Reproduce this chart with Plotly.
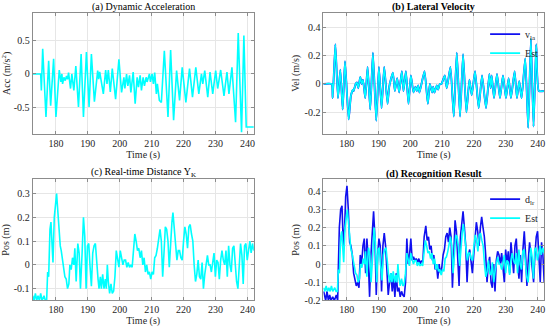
import plotly.graph_objects as go

# ---------------- data ----------------
# (a) Dynamic acceleration
t_acc = [172.7, 175.22, 175.43, 175.85, 176.88, 177.72, 178.34, 179.27, 180.0, 181.04,
         181.56, 181.87, 182.08, 182.49, 182.91, 183.32, 183.63, 183.95, 184.57, 184.98,
         185.61, 186.23, 187.06, 187.89, 188.62, 189.55, 190.38, 191.11, 192.05, 192.56,
         193.08, 193.40, 193.71, 194.85, 195.58, 195.99, 196.41, 197.03, 197.65, 198.69,
         199.73, 200.56, 201.29, 201.60, 202.12, 202.53, 203.05, 203.47, 204.20, 204.82,
         205.44, 205.86, 206.38, 206.79, 207.31, 207.73, 208.25, 208.56, 209.28, 209.60,
         210.11, 210.53, 210.94, 211.46, 211.78, 212.40, 213.02, 213.96, 215.10, 215.93,
         216.86, 217.80, 218.73, 219.56, 220.71, 221.85, 222.78, 223.82, 224.76, 225.59,
         226.00, 226.62, 227.56, 228.28, 229.12, 230.05, 230.67, 231.61, 232.65, 233.58,
         234.20, 235.14, 236.28, 237.11, 238.15, 238.88, 239.61, 242.0]
acc = [0.0, 0.0, -0.25, 0.38, -0.65, 0.2, -0.48, 0.23, -0.65, 0.06,
       -0.12, 0.0, -0.15, -0.05, -0.1, -0.03, -0.08, 0.02, -0.22, 0.0,
       -0.25, 0.12, -0.5, 0.3, -0.65, 0.33, -0.5, 0.3, -0.42, -0.15,
       0.05, -0.08, 0.03, -0.3, 0.06, -0.15, 0.06, -0.27, 0.08, -0.38,
       0.22, -0.28, -0.05, -0.22, 0.0, -0.18, -0.02, -0.28, 0.03, -0.45,
       -0.05, -0.2, -0.02, -0.25, -0.05, -0.18, -0.05, -0.12, 0.0, -0.12,
       0.0, -0.15, 0.02, -0.3, -0.15, -0.4, -0.43, 0.35, -0.65, 0.36,
       -0.7, 0.05, -0.4, 0.1, -0.43, 0.08, -0.35, 0.1, -0.3, 0.0,
       -0.15, 0.05, -0.35, 0.03, -0.3, 0.05, -0.22, 0.06, -0.33, 0.03,
       -0.3, 0.1, -0.73, 0.62, -0.88, 0.58, -0.8, -0.8]

# (b) Lateral velocity
t_vel = [172.7, 175.30, 175.61, 176.45, 177.28, 178.01, 178.75, 179.48, 180.63, 181.36,
         181.99, 182.19, 182.82, 183.23, 183.65, 184.28, 184.70, 185.12, 185.85, 186.58,
         187.41, 188.25, 189.30, 190.13, 190.97, 191.80, 192.85, 193.37, 194.52, 195.14,
         195.87, 196.50, 197.34, 197.86, 198.60, 199.43, 200.17, 201.00, 201.63, 202.05,
         202.47, 202.89, 204.45, 205.50, 206.13, 206.86, 207.17, 207.59, 208.32, 208.74,
         209.26, 209.78, 210.82, 211.45, 212.60, 213.65, 214.59, 215.63, 216.57, 217.62,
         218.56, 219.29, 220.33, 221.48, 222.53, 223.78, 224.83, 225.24, 225.56, 226.29,
         227.23, 228.17, 229.11, 230.05, 230.88, 231.61, 232.76, 233.49, 234.22, 234.95,
         236.10, 237.04, 237.88, 238.71, 239.55, 240.38, 242.0]
vel = [0.0, 0.0, -0.1, 0.28, -0.1, 0.1, -0.18, 0.16, -0.25, -0.08,
       -0.04, -0.05, 0.0, 0.01, -0.03, 0.05, 0.0, 0.03, -0.1, 0.12,
       -0.18, 0.22, -0.26, 0.12, -0.17, 0.12, -0.14, -0.02, 0.08, -0.05,
       0.04, -0.06, 0.09, -0.05, 0.09, -0.14, 0.06, -0.06, -0.02, -0.05,
       -0.01, -0.06, 0.09, -0.14, 0.0, -0.06, -0.02, -0.06, -0.01, -0.04,
       0.0, 0.0, 0.06, -0.03, 0.12, -0.23, 0.22, -0.23, 0.21, -0.2,
       0.03, -0.08, 0.09, -0.17, 0.06, -0.17, 0.07, -0.03, 0.06, -0.1,
       0.07, -0.1, 0.06, -0.1, 0.04, -0.1, 0.09, -0.1, 0.02, -0.1,
       0.18, -0.31, 0.32, -0.3, 0.28, -0.05, -0.05]

# (c) Real-time distance Y_K (also the estimate in (d))
t_pos = [172.73, 173.15, 173.56, 173.98, 174.39, 174.81, 175.22, 175.64, 176.26, 176.68,
         177.09, 177.40, 177.72, 178.13, 178.44, 178.75, 179.07, 179.48, 179.90, 180.21,
         180.62, 181.04, 181.35, 181.66, 182.08, 182.49, 182.80, 183.22, 183.63, 184.05,
         184.36, 184.78, 185.19, 185.61, 185.92, 186.33, 186.85, 187.27, 187.68, 188.20,
         188.62, 189.03, 189.45, 189.87, 190.28, 190.70, 191.11, 191.53, 191.94, 192.36,
         192.77, 193.19, 193.50, 193.91, 194.23, 194.64, 195.06, 195.47, 195.78, 196.10,
         196.41, 196.82, 197.24, 197.65, 198.07, 198.48, 198.90, 199.31, 199.73, 200.15,
         200.56, 200.98, 201.39, 201.81, 202.22, 202.64, 203.05, 203.47, 203.88, 204.30,
         204.71, 205.13, 205.55, 205.96, 206.38, 206.79, 207.21, 207.62, 208.04, 208.45,
         208.87, 209.28, 209.70, 210.11, 210.53, 210.94, 211.36, 211.78, 212.19, 212.61,
         213.02, 213.44, 213.85, 214.27, 214.68, 215.10, 215.51, 215.93, 216.34, 216.66,
         217.07, 217.49, 217.90, 218.32, 218.73, 219.15, 219.56, 219.98, 220.39, 220.81,
         221.23, 221.64, 222.06, 222.47, 222.89, 223.30, 223.72, 224.13, 224.55, 224.96,
         225.38, 225.79, 226.21, 226.62, 227.04, 227.46, 227.87, 228.29, 228.70, 229.12,
         229.53, 229.95, 230.36, 230.78, 231.19, 231.61, 232.02, 232.44, 232.86, 233.27,
         233.69, 234.10, 234.52, 234.93, 235.35, 235.76, 236.18, 236.59, 237.01, 237.43,
         237.84, 238.26, 238.67, 239.09, 239.50, 239.92, 240.33, 240.75, 241.16, 241.58,
         241.99]
yk = [-0.13, -0.15, -0.12, -0.15, -0.13, -0.15, -0.12, -0.15, -0.13, -0.15,
      -0.15, -0.03, -0.05, 0.15, 0.18, 0.08, 0.01, 0.2, 0.25, 0.3,
      0.22, 0.12, 0.08, 0.06, 0.02, -0.02, -0.05, -0.06, -0.1, -0.08,
      0.0, -0.02, 0.03, 0.0, 0.07, -0.07, 0.09, 0.05, -0.1, 0.05,
      0.2, 0.12, -0.1, 0.08, 0.09, -0.01, -0.09, 0.05, 0.08, 0.09,
      0.0, -0.06, -0.1, -0.05, -0.1, -0.04, -0.1, -0.06, -0.1, 0.0,
      -0.07, -0.12, -0.08, -0.12, -0.11, -0.05, 0.06, 0.03, -0.01, 0.06,
      0.03, 0.0, 0.02, 0.02, -0.01, 0.01, -0.01, 0.0, -0.01, 0.06,
      0.13, 0.1, 0.06, 0.07, 0.03, 0.06, 0.0, 0.03, -0.03, 0.0,
      -0.04, -0.03, -0.06, -0.03, -0.04, 0.03, 0.04, 0.07, 0.12, 0.15,
      0.1, -0.05, 0.05, 0.16, 0.15, 0.1, -0.01, 0.12, 0.18, 0.22,
      0.16, 0.09, 0.02, 0.06, 0.06, 0.03, 0.02, 0.1, 0.16, 0.13,
      0.07, 0.16, 0.17, 0.13, 0.1, 0.0, -0.07, -0.04, 0.02, -0.05,
      -0.06, 0.01, -0.1, -0.04, 0.0, 0.04, 0.0, 0.0, -0.03, 0.02,
      0.05, -0.05, 0.02, 0.01, -0.06, 0.02, 0.06, 0.02, 0.0, 0.06,
      -0.05, 0.08, 0.0, -0.03, 0.07, 0.08, 0.0, -0.07, -0.1, 0.0,
      0.09, 0.04, -0.08, 0.08, 0.09, 0.02, 0.06, 0.1, 0.05, 0.09,
      0.06]

# (d) Recognition result d_lr
t_dlr = [172.79, 173.0, 173.42, 173.83, 174.25, 174.67, 175.09, 175.61, 176.13, 176.76,
         177.18, 177.39, 177.70, 178.12, 178.54, 178.96, 179.37, 179.69, 180.10, 180.52,
         180.94, 181.36, 181.78, 182.19, 182.61, 183.03, 183.45, 183.87, 184.28, 184.70,
         185.12, 185.54, 185.96, 186.37, 186.79, 187.21, 187.63, 188.05, 188.46, 188.88,
         189.30, 189.72, 190.14, 190.55, 190.97, 191.39, 191.81, 192.23, 192.64, 193.06,
         193.48, 193.90, 194.32, 194.73, 195.15, 195.57, 195.99, 196.41, 196.82, 197.24,
         197.66, 198.08, 198.50, 198.91, 199.33, 199.75, 200.17, 200.59, 201.0, 201.42,
         201.84, 202.26, 202.68, 203.09, 203.51, 203.93, 204.35, 204.87, 205.29, 205.71,
         206.12, 206.54, 206.96, 207.38, 207.80, 208.21, 208.63, 209.05, 209.47, 209.89,
         210.30, 210.72, 211.14, 211.56, 211.98, 212.39, 212.81, 213.23, 213.65, 214.06,
         214.48, 214.90, 215.32, 215.74, 216.15, 216.57, 216.99, 217.41, 217.83, 218.24,
         218.66, 219.08, 219.50, 219.92, 220.33, 220.75, 221.17, 221.59, 222.01, 222.42,
         222.84, 223.26, 223.68, 224.10, 224.51, 224.93, 225.35, 225.77, 226.19, 226.60,
         227.02, 227.44, 227.86, 228.28, 228.69, 229.11, 229.53, 229.95, 230.37, 230.78,
         231.20, 231.62, 232.04, 232.46, 232.87, 233.29, 233.71, 234.13, 234.55, 234.96,
         235.38, 235.80, 236.22, 236.64, 237.05, 237.47, 237.89, 238.31, 238.73, 239.14,
         239.56, 239.98, 240.40, 240.82, 241.23, 241.65, 242.07]
dlr = [-0.15, -0.17, -0.2, -0.15, -0.2, -0.17, -0.2, -0.18, -0.2, -0.17,
       -0.2, -0.02, 0.2, 0.3, 0.32, 0.1, 0.2, 0.37, 0.43, 0.3,
       0.12, 0.1, 0.05, -0.05, -0.08, -0.12, -0.1, -0.13, 0.05, 0.0,
       0.1, 0.14, -0.05, 0.14, 0.02, -0.18, 0.05, 0.2, 0.29, 0.15,
       -0.17, 0.05, 0.14, 0.1, -0.15, 0.1, 0.17, 0.1, -0.05, -0.17,
       -0.1, -0.05, -0.15, -0.07, -0.18, -0.05, -0.15, -0.13, -0.18, -0.15,
       -0.17, -0.18, -0.1, 0.14, 0.0, 0.05, 0.14, 0.02, 0.04, 0.02,
       0.03, 0.01, 0.03, 0.0, 0.02, 0.01, 0.15, 0.21, 0.13, 0.15,
       0.08, 0.1, 0.02, 0.05, -0.03, 0.0, -0.08, 0.0, -0.05, -0.02,
       0.05, 0.08, 0.15, 0.17, 0.12, 0.2, 0.15, -0.13, 0.05, 0.24,
       0.18, 0.05, -0.12, 0.15, 0.22, 0.29, 0.2, 0.1, -0.1, 0.05,
       0.08, 0.0, -0.05, 0.05, 0.12, 0.23, 0.18, 0.1, 0.2, 0.26,
       0.2, 0.15, 0.05, -0.1, 0.0, 0.04, -0.1, -0.13, 0.0, -0.15,
       0.02, 0.07, 0.05, 0.0, 0.06, -0.02, -0.1, 0.08, 0.0, 0.07,
       -0.05, 0.12, 0.02, -0.05, 0.1, 0.14, 0.0, -0.08, 0.05, -0.1,
       0.08, 0.18, 0.05, -0.12, 0.02, 0.12, 0.05, -0.05, -0.1, 0.05,
       0.15, 0.18, 0.0, -0.1, 0.12, 0.05, -0.1]

x_ticks = [180, 190, 200, 210, 220, 230, 240]
x_ticklabels = ["180", "190", "200", "210", "220", "230", "240"]
yticks_a = [-0.5, 0, 0.5]
ytext_a = ["-0.5", "0", "0.5"]
yticks_b = [-0.2, 0, 0.2, 0.4]
ytext_b = ["-0.2", "0", "0.2", "0.4"]
yticks_c = [-0.1, 0, 0.1, 0.2, 0.3]
ytext_c = ["-0.1", "0", "0.1", "0.2", "0.3"]
yticks_d = [-0.2, -0.1, 0, 0.1, 0.2, 0.3, 0.4]
ytext_d = ["-0.2", "-0.1", "0", "0.1", "0.2", "0.3", "0.4"]

# ---------------- figure ----------------
FONT = "Liberation Serif, Times New Roman, serif"
W, H = 550, 333
CYAN = "#00FFFF"
BLUE = "#1010F0"

fig = go.Figure()
fig.add_trace(go.Scatter(x=t_acc, y=acc, mode="lines", line=dict(color=CYAN, width=1.6),
                         xaxis="x", yaxis="y", showlegend=False))
fig.add_trace(go.Scatter(x=t_vel, y=vel, mode="lines", name="v<sub>la</sub>",
                         line=dict(color=BLUE, width=1.9, shape="spline", smoothing=0.5),
                         xaxis="x2", yaxis="y2", legend="legend"))
fig.add_trace(go.Scatter(x=t_vel, y=vel, mode="lines", name="Est",
                         line=dict(color=CYAN, width=1.6, shape="spline", smoothing=0.5),
                         xaxis="x2", yaxis="y2", legend="legend"))
fig.add_trace(go.Scatter(x=t_pos, y=yk, mode="lines", line=dict(color=CYAN, width=1.6),
                         xaxis="x3", yaxis="y3", showlegend=False))
fig.add_trace(go.Scatter(x=t_dlr, y=dlr, mode="lines", name="d<sub>lr</sub>",
                         line=dict(color=BLUE, width=1.6),
                         xaxis="x4", yaxis="y4", legend="legend2"))
fig.add_trace(go.Scatter(x=t_pos, y=yk, mode="lines", name="Est",
                         line=dict(color=CYAN, width=1.6),
                         xaxis="x4", yaxis="y4", legend="legend2"))

def px_x(p):
    return p / W

def px_y(p):
    return 1 - p / H

xl = [px_x(32.7), px_x(254.3)]
xr = [px_x(324.0), px_x(545.0)]
yt = [px_y(136.0), px_y(13.3)]
yb = [px_y(306.0), px_y(182.7)]

axis_common = dict(showline=True, linecolor="#8c8c8c", linewidth=1, mirror="ticks",
                   ticks="inside", ticklen=3, tickcolor="#8c8c8c",
                   showgrid=True, gridcolor="#e6e6e6", gridwidth=1, zeroline=False,
                   tickfont=dict(family=FONT, size=10, color="#262626"))
title_font = dict(family=FONT, size=10, color="#262626")
xrange = [172.7, 242.0]

def xax(domain, anchor):
    return dict(axis_common, domain=domain, anchor=anchor, range=xrange,
                tickvals=x_ticks, ticktext=x_ticklabels,
                title=dict(text="Time (s)", font=title_font, standoff=1))

def yax(domain, anchor, rng, tv, tt, label):
    return dict(axis_common, domain=domain, anchor=anchor, range=rng,
                tickvals=tv, ticktext=tt,
                title=dict(text=label, font=title_font, standoff=3))

leg_font = dict(family=FONT, size=10, color="#262626")
ann_font = dict(family=FONT, size=10, color="#000")

fig.update_layout(
    width=W, height=H, margin=dict(l=0, r=0, t=0, b=0),
    paper_bgcolor="white", plot_bgcolor="white",
    font=dict(family=FONT, size=10, color="#262626"),
    xaxis=xax(xl, "y"), yaxis=yax(yt, "x", [-0.9, 0.92], yticks_a, ytext_a, "Acc (m/s<sup>2</sup>)"),
    xaxis2=xax(xr, "y2"), yaxis2=yax(yt, "x2", [-0.35, 0.5], yticks_b, ytext_b, "Vel (m/s)"),
    xaxis3=xax(xl, "y3"), yaxis3=yax(yb, "x3", [-0.15, 0.36], yticks_c, ytext_c, "Pos (m)"),
    xaxis4=xax(xr, "y4"), yaxis4=yax(yb, "x4", [-0.2, 0.465], yticks_d, ytext_d, "Pos (m)"),
    legend=dict(x=px_x(486), y=px_y(20), xanchor="left", yanchor="top",
                bgcolor="rgba(0,0,0,0)", borderwidth=0, itemwidth=30,
                tracegroupgap=0, font=leg_font),
    legend2=dict(x=px_x(486), y=px_y(188), xanchor="left", yanchor="top",
                 bgcolor="rgba(0,0,0,0)", borderwidth=0, itemwidth=30,
                 tracegroupgap=0, font=leg_font),
    annotations=[
        dict(text="(a) Dynamic Acceleration", x=px_x(143.5), y=px_y(7), xref="paper", yref="paper",
             showarrow=False, xanchor="center", yanchor="middle", font=ann_font),
        dict(text="<b>(b) Lateral Velocity</b>", x=px_x(434.5), y=px_y(7), xref="paper", yref="paper",
             showarrow=False, xanchor="center", yanchor="middle", font=ann_font),
        dict(text="(c) Real-time Distance Y<sub>K</sub>", x=px_x(143.5), y=px_y(176), xref="paper", yref="paper",
             showarrow=False, xanchor="center", yanchor="middle", font=ann_font),
        dict(text="<b>(d) Recognition Result</b>", x=px_x(434.5), y=px_y(177), xref="paper", yref="paper",
             showarrow=False, xanchor="center", yanchor="middle", font=ann_font),
    ],
)

fig.write_html("out.html", config={"displayModeBar": False},
               post_script="document.body.style.margin='0';document.body.style.overflow='hidden';")
